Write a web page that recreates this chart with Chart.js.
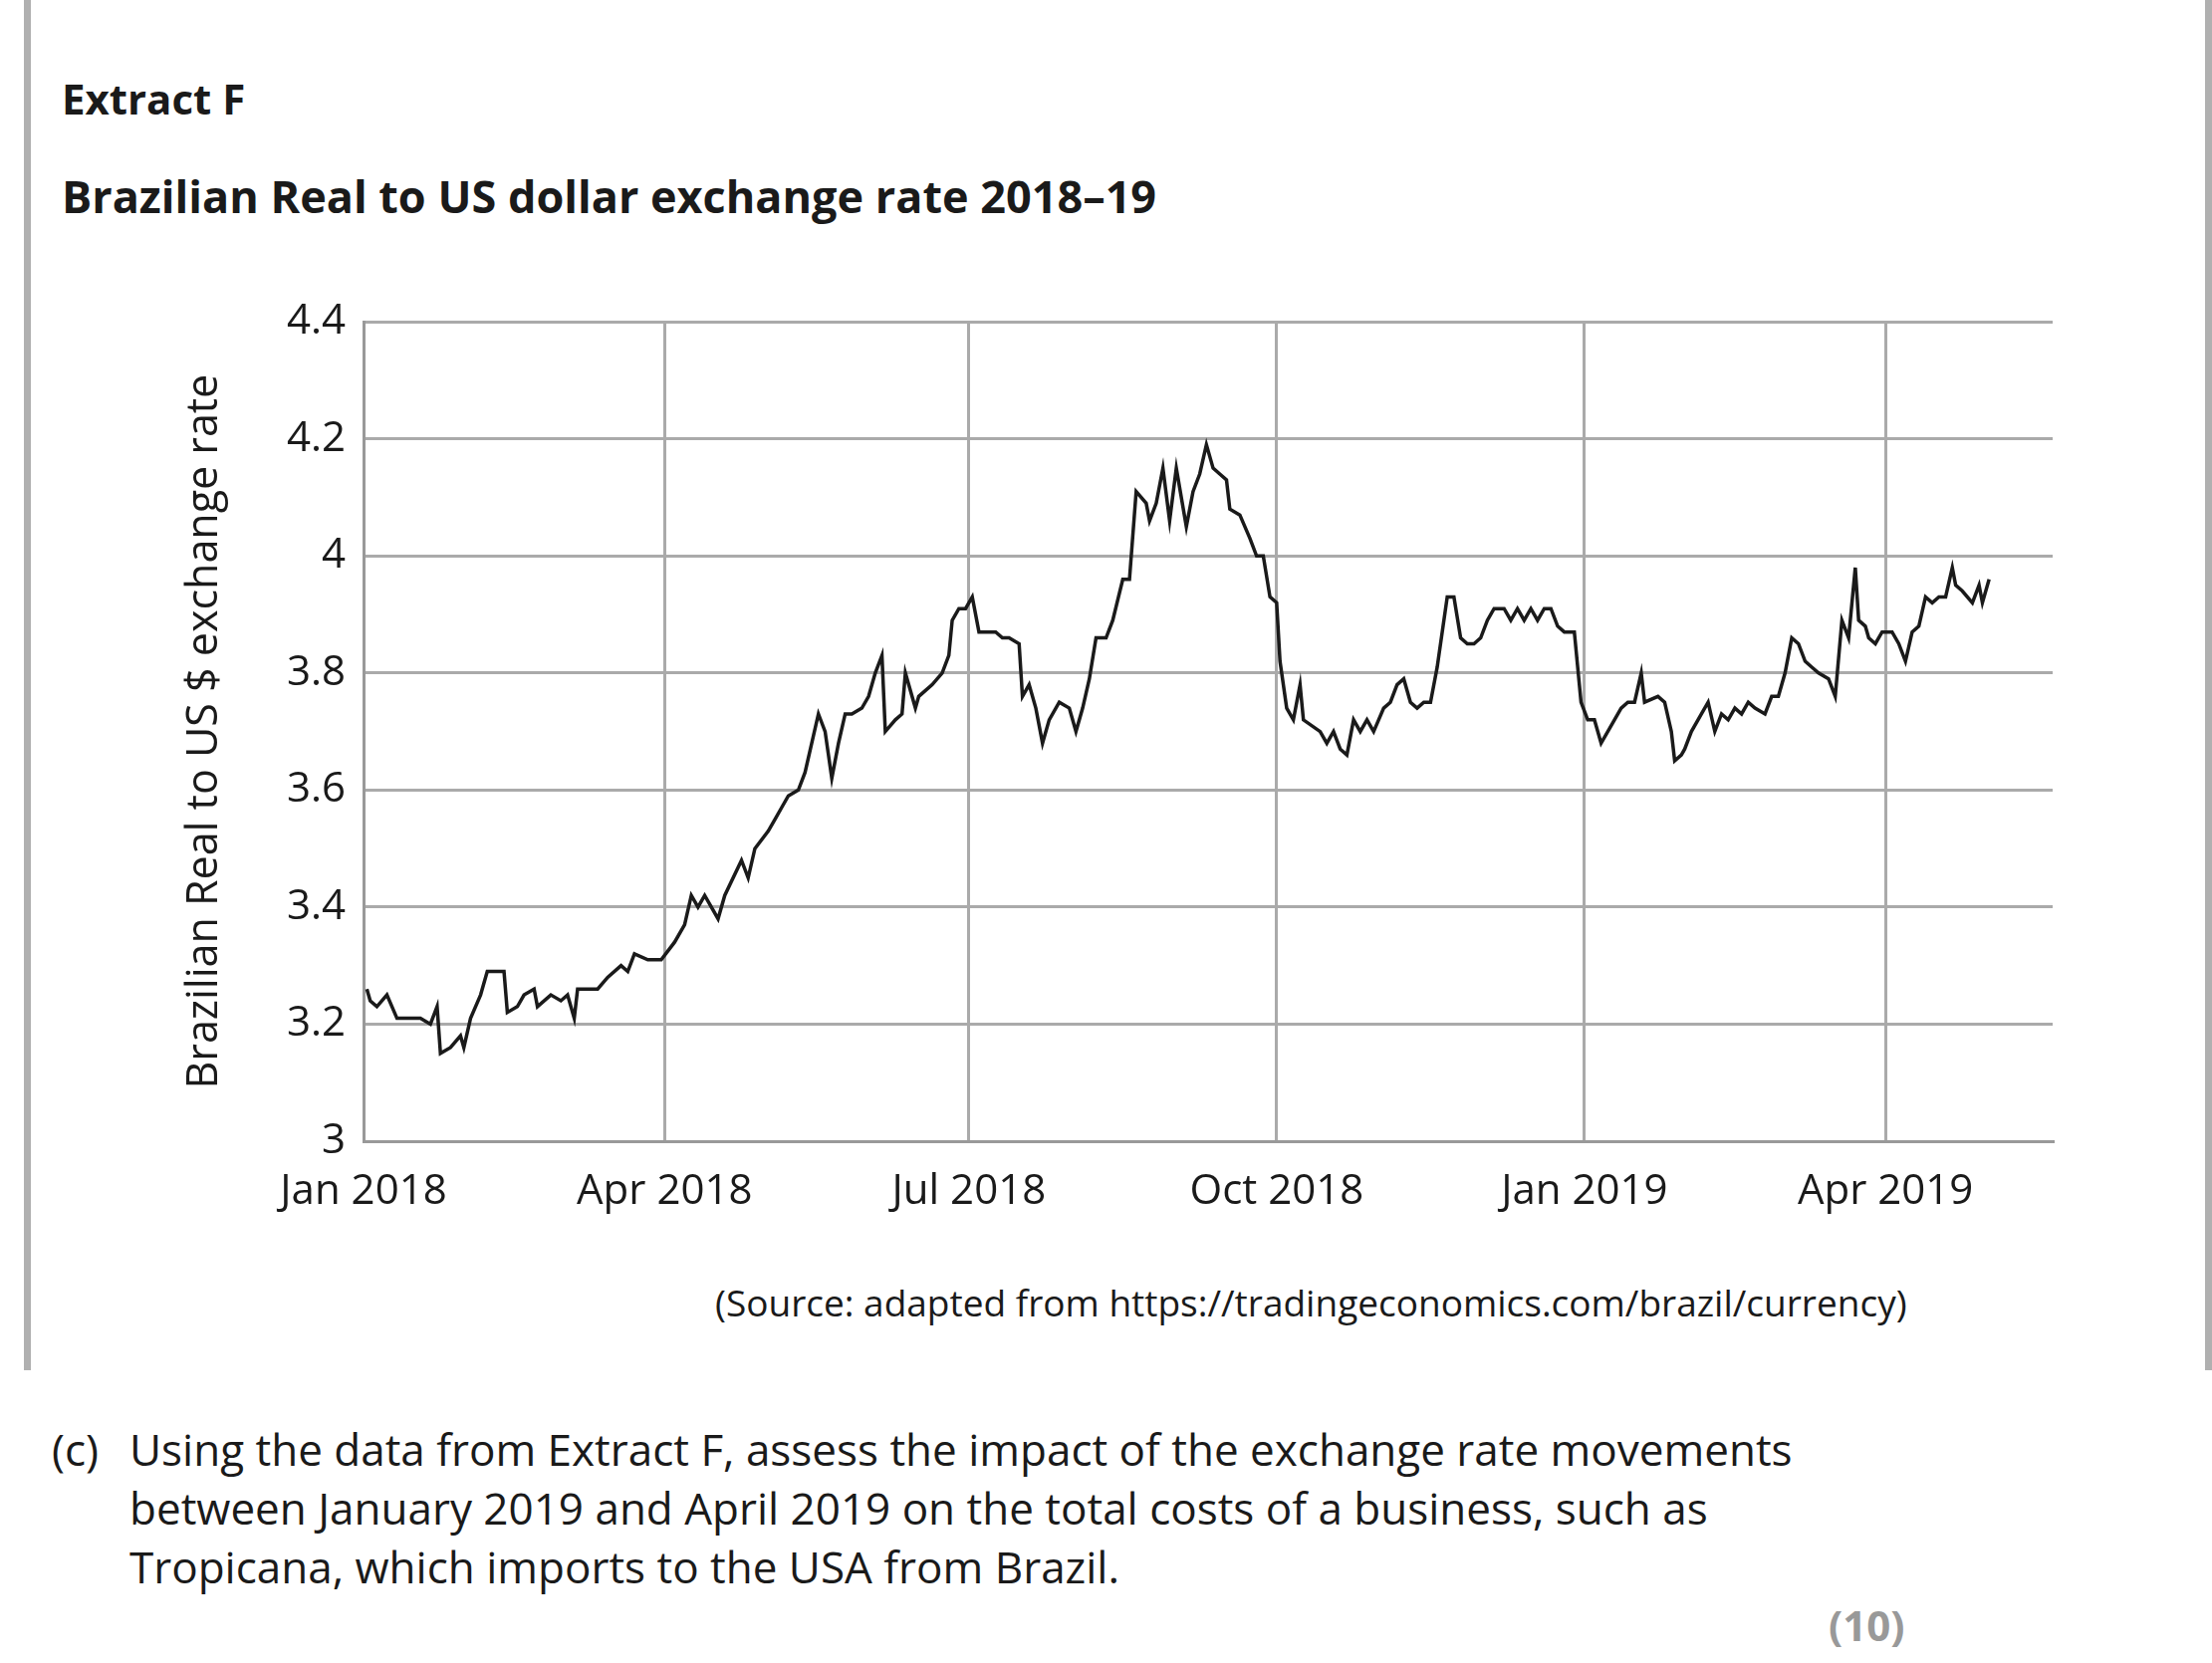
<!DOCTYPE html>
<html><head><meta charset="utf-8">
<script src="https://cdn.jsdelivr.net/npm/chart.js@4"></script>
<style>
body{margin:0;width:2221px;height:1670px;background:#fff;position:relative;font-family:"Open Sans",Lato,sans-serif;overflow:hidden}
.t{position:absolute;color:#1a1a1a;white-space:nowrap}
</style></head><body>
<div style="position:absolute;left:24px;top:0;width:7px;height:1376px;background:#b0b0b0"></div>
<div style="position:absolute;left:2214px;top:0;width:7px;height:1376px;background:#b0b0b0"></div>
<div class="t" style="left:62px;top:70px;font-size:42px;font-weight:bold">Extract F</div>
<div class="t" style="left:62px;top:166px;font-size:45px;font-weight:bold">Brazilian Real to US dollar exchange rate 2018–19</div>
<div style="position:absolute;left:150px;top:280px;width:1961px;height:958px"><canvas id="c"></canvas></div>
<div class="t" style="left:718px;top:1282px;font-size:37px">(Source: adapted from https://tradingeconomics.com/brazil/currency)</div>
<div class="t" style="left:52px;top:1426px;font-size:44px;line-height:59px">(c)</div>
<div class="t" style="left:130px;top:1426px;font-size:44px;line-height:59px">Using the data from Extract F, assess the impact of the exchange rate movements<br>between January 2019 and April 2019 on the total costs of a business, such as<br>Tropicana, which imports to the USA from Brazil.</div>
<div class="t" style="left:1836px;top:1603px;font-size:42px;font-weight:bold;color:#999">(10)</div>
<script>
const tickDays=[0,90,181,273,365,455];
const tickLabels=["Jan 2018","Apr 2018","Jul 2018","Oct 2018","Jan 2019","Apr 2019"];
const days=[1,2,4,7,10,13,17,20,22,23,26,29,30,32,35,37,39,42,43,46,48,51,52,56,59,61,63,64,68,70,73,77,79,81,85,89,93,96,98,100,102,106,108,113,115,117,121,123,125,127,130,132,136,138,140,142,144,146,149,151,153,155,156,159,161,162,165,166,170,173,175,176,178,180,182,184,189,191,193,196,197,199,201,203,205,208,211,213,215,217,219,222,224,227,229,231,234,235,237,239,241,243,246,248,250,252,254,256,258,259,262,265,267,269,271,273,274,276,278,280,281,286,288,290,292,294,296,298,300,302,305,307,309,311,313,315,317,319,321,324,326,328,330,332,334,336,338,341,343,345,347,349,351,353,355,357,359,362,364,366,368,370,372,374,376,378,380,382,383,387,389,391,392,394,395,397,400,402,404,406,408,410,412,414,416,419,421,423,425,427,429,431,433,435,438,440,442,444,446,447,449,450,452,454,457,459,461,463,465,467,469,471,473,475,476,478,481,483,484,486];
const rates=[3.26,3.24,3.23,3.25,3.21,3.21,3.21,3.20,3.23,3.15,3.16,3.18,3.16,3.21,3.25,3.29,3.29,3.29,3.22,3.23,3.25,3.26,3.23,3.25,3.24,3.25,3.21,3.26,3.26,3.26,3.28,3.30,3.29,3.32,3.31,3.31,3.34,3.37,3.42,3.40,3.42,3.38,3.42,3.48,3.45,3.50,3.53,3.55,3.57,3.59,3.60,3.63,3.73,3.70,3.62,3.68,3.73,3.73,3.74,3.76,3.80,3.83,3.70,3.72,3.73,3.80,3.74,3.76,3.78,3.80,3.83,3.89,3.91,3.91,3.93,3.87,3.87,3.86,3.86,3.85,3.76,3.78,3.74,3.68,3.72,3.75,3.74,3.70,3.74,3.79,3.86,3.86,3.89,3.96,3.96,4.11,4.09,4.06,4.09,4.15,4.06,4.15,4.05,4.11,4.14,4.19,4.15,4.14,4.13,4.08,4.07,4.03,4.00,4.00,3.93,3.92,3.82,3.74,3.72,3.78,3.72,3.70,3.68,3.70,3.67,3.66,3.72,3.70,3.72,3.70,3.74,3.75,3.78,3.79,3.75,3.74,3.75,3.75,3.81,3.93,3.93,3.86,3.85,3.85,3.86,3.89,3.91,3.91,3.89,3.91,3.89,3.91,3.89,3.91,3.91,3.88,3.87,3.87,3.75,3.72,3.72,3.68,3.70,3.72,3.74,3.75,3.75,3.80,3.75,3.76,3.75,3.70,3.65,3.66,3.67,3.70,3.73,3.75,3.70,3.73,3.72,3.74,3.73,3.75,3.74,3.73,3.76,3.76,3.80,3.86,3.85,3.82,3.81,3.80,3.79,3.76,3.89,3.86,3.98,3.89,3.88,3.86,3.85,3.87,3.87,3.85,3.82,3.87,3.88,3.93,3.92,3.93,3.93,3.98,3.95,3.94,3.92,3.95,3.92,3.96];
const yTicks=[3,3.2,3.4,3.6,3.8,4,4.2,4.4];
const pts=days.map((d,i)=>({x:d,y:rates[i]}));
const font={family:'"Open Sans",Lato,sans-serif',size:42};
new Chart(document.getElementById('c'),{
 type:'line',
 data:{datasets:[{data:pts,borderColor:'#1a1a1a',borderWidth:3.5,pointRadius:0,tension:0}]},
 options:{responsive:true,maintainAspectRatio:false,animation:false,
  layout:{padding:{top:11,right:50,bottom:0,left:0}},
  plugins:{legend:{display:false},tooltip:{enabled:false}},
  scales:{
   x:{type:'linear',min:0,max:505,
    afterBuildTicks:a=>{a.ticks=tickDays.map(v=>({value:v}));},
    afterFit:a=>{a.height=92;},
    ticks:{font,color:'#1a1a1a',padding:26,maxRotation:0,autoSkip:false,callback:(v)=>tickLabels[tickDays.indexOf(v)]},
    grid:{color:'#aaa',lineWidth:3,drawTicks:false},border:{color:'#999',width:3}},
   y:{min:3,max:4.4,
    afterBuildTicks:a=>{a.ticks=yTicks.map(v=>({value:v}));},
    afterFit:a=>{a.width=215;},
    ticks:{font,color:'#1a1a1a',padding:18,callback:v=>String(+v.toFixed(1))},
    title:{display:true,text:'Brazilian Real to US $ exchange rate',font:{family:font.family,size:43},color:'#1a1a1a',padding:{top:30,bottom:4}},
    grid:{color:'#aaa',lineWidth:3,drawTicks:false},border:{color:'#999',width:3}}
  }}
});
</script>
</body></html>
